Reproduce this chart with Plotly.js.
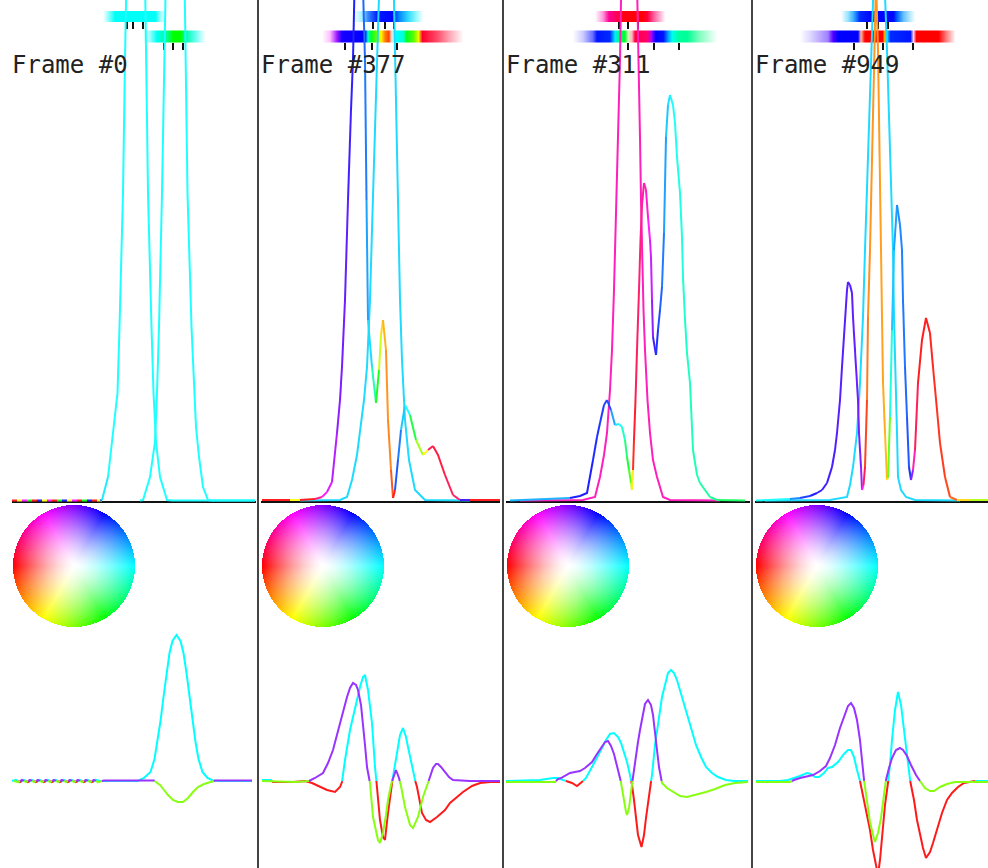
<!DOCTYPE html>
<html><head><meta charset="utf-8">
<script src="https://cdn.plot.ly/plotly-3.0.1.min.js"></script>
<style>html,body{margin:0;padding:0;background:#fff}#chart{width:988px;height:868px}</style>
</head><body><div id="chart"></div>
<script>
// ================= DATA =================
const frameLabels = ['Frame #0', 'Frame #377', 'Frame #311', 'Frame #949'];

// ---- Column 1 (Frame #0) : densities (position, density, phase hue in degrees)
const c1aX = [90, 92, 98, 104, 107.5, 109.5, 113, 115, 117.5, 120.5, 123, 125.5, 128, 130.5, 133.5, 136, 138, 141.5, 143.5, 146, 150, 157, 162, 245];
const c1aY = [0.015, 0.02, 0.25, 0.75, 1.09, 1.75, 3.09, 4.42, 6.5, 8.5, 9.9, 10.4, 9.9, 8.5, 6.5, 4.42, 3.09, 1.75, 1.09, 0.6, 0.25, 0.02, 0.015, 0.015];
const c1aH = [215, 185, 180, 180, 180, 180, 180, 180, 180, 180, 180, 180, 180, 180, 180, 180, 180, 180, 180, 180, 180, 180, 180, 180];
const c1bX = [130, 133, 140, 145, 147, 149, 152, 154.5, 157, 160, 162.5, 165, 167.5, 170, 173, 175.5, 177.5, 181.5, 184, 186, 189, 193, 198, 202, 245];
const c1bY = [0.015, 0.02, 0.25, 0.6, 1.09, 1.75, 3.09, 4.42, 6.5, 8.5, 9.9, 10.4, 9.9, 8.5, 6.5, 4.42, 3.09, 1.75, 1.09, 0.75, 0.45, 0.15, 0.02, 0.015, 0.015];
const c1bH = 180;
const c1nX = [2, 7, 12, 17, 22, 27, 32, 37, 42, 47, 52, 57, 62, 67, 72, 77, 82, 87, 92];
const c1nY = [0.015, 0.015, 0.015, 0.015, 0.015, 0.015, 0.015, 0.015, 0.015, 0.015, 0.015, 0.015, 0.015, 0.015, 0.015, 0.015, 0.015, 0.015, 0.015];
const c1nH = [0, 60, 300, 120, 0, 240, 60, 300, 0, 120, 240, 60, 300, 0, 120, 240, 0, 60, 200];

// ---- Column 2 (Frame #377)
const c2aX = [3, 31, 41, 56, 63, 68, 73, 78, 81, 83, 86, 89, 92, 94, 96.5, 100, 103, 106, 107.5, 109, 113, 117, 120, 122, 124, 127, 129, 132, 134, 136, 139, 142, 146, 151, 157, 164, 169, 174, 179, 186, 194, 201, 211, 241];
const c2aY = [0.02, 0.02, 0.02, 0.03, 0.05, 0.10, 0.20, 0.69, 1.02, 1.35, 2.02, 3.02, 3.92, 4.42, 5.62, 6.0, 5.5, 4.42, 3.02, 1.82, 1.35, 0.99, 1.32, 1.67, 1.82, 1.52, 0.82, 0.32, 0.04, 0.12, 0.42, 0.72, 0.97, 0.87, 0.62, 0.47, 0.52, 0.56, 0.47, 0.27, 0.07, 0.02, 0.02, 0.02];
const c2aH = [0, 60, 0, 330, 300, 290, 280, 270, 265, 262, 258, 250, 245, 240, 235, 228, 220, 215, 205, 190, 160, 120, 75, 50, 40, 32, 28, 15, 0, 225, 215, 195, 180, 130, 85, 60, 345, 350, 350, 345, 340, 250, 0, 0];
const c2bX = [41, 81, 88, 93, 98, 101, 105, 108, 111, 113, 115, 117, 120, 127, 133, 136, 137.5, 139, 141, 143, 146, 150, 156, 166, 211];
const c2bY = [0.015, 0.02, 0.05, 0.22, 0.47, 0.69, 1.02, 1.35, 2.02, 2.72, 3.62, 4.42, 6.0, 7.4, 6.0, 4.42, 3.52, 2.72, 2.02, 1.42, 0.82, 0.42, 0.12, 0.02, 0.015];
const c2bH = 190;

// ---- Column 3 (Frame #311)
const c3aX = [16, 79, 91, 96, 100, 103, 106, 108, 110, 112, 114, 116, 119, 125, 131, 135, 136, 137, 138, 139.5, 141, 143.5, 146, 149, 153, 159, 166, 216];
const c3aY = [0.015, 0.02, 0.05, 0.25, 0.47, 0.69, 1.12, 1.52, 2.12, 2.82, 3.65, 4.42, 6.22, 7.52, 6.22, 4.42, 3.65, 3.02, 2.42, 1.92, 1.52, 1.02, 0.69, 0.42, 0.25, 0.05, 0.02, 0.015];
const c3aH = 318;
const c3bX = [6, 66, 76, 83, 89, 93, 96, 100, 103, 107, 111, 115, 118, 121, 123, 125, 127, 128, 129, 130, 131.5, 133, 135, 136.5, 138, 140, 142, 144, 146, 147, 148, 149, 152, 154, 156, 158, 160, 162, 164, 166, 169, 171, 173, 176, 178, 179, 181, 183, 186, 189, 193, 196, 206, 213, 241];
const c3bY = [0.015, 0.04, 0.06, 0.09, 0.42, 0.65, 0.79, 0.97, 1.02, 0.92, 0.77, 0.78, 0.75, 0.62, 0.45, 0.32, 0.19, 0.12, 0.32, 0.62, 1.02, 1.52, 2.12, 2.62, 2.97, 3.19, 3.12, 2.85, 2.62, 2.45, 2.02, 1.65, 1.47, 1.72, 1.92, 2.15, 2.69, 3.65, 3.97, 4.07, 3.97, 3.79, 3.45, 3.09, 2.65, 2.25, 1.82, 1.49, 1.19, 0.52, 0.27, 0.19, 0.05, 0.02, 0.015];
const c3bH = [200, 240, 240, 240, 236, 234, 232, 230, 228, 205, 185, 178, 165, 145, 125, 105, 80, 55, 5, 355, 345, 340, 335, 330, 325, 320, 312, 300, 290, 285, 270, 250, 235, 228, 222, 215, 205, 195, 188, 182, 178, 176, 174, 172, 170, 168, 166, 164, 162, 160, 158, 155, 150, 140, 120];

// ---- Column 4 (Frame #949)
const c4aX = [3, 12, 37, 47, 57, 64, 69, 74, 79, 82, 84, 87, 89, 92, 94, 95, 97, 99, 100, 103, 105, 106, 108, 109, 110.5, 112, 114, 115, 117, 119, 121, 123, 125, 126.5, 128, 130, 132, 134, 135, 137, 139, 141, 144, 147, 149, 150, 152, 154, 156, 158, 160, 162, 165, 169, 173, 177, 180, 184, 187, 192, 197, 204, 217, 235];
const c4aY = [0.015, 0.02, 0.03, 0.04, 0.06, 0.09, 0.12, 0.19, 0.35, 0.52, 0.69, 1.02, 1.35, 1.85, 2.12, 2.20, 2.17, 2.09, 1.85, 1.35, 1.02, 0.69, 0.35, 0.12, 0.17, 0.35, 1.02, 1.85, 2.52, 3.52, 4.52, 5.22, 4.52, 3.52, 2.52, 1.19, 0.69, 0.22, 0.24, 0.85, 1.72, 2.52, 2.97, 2.77, 2.52, 2.02, 1.35, 0.85, 0.35, 0.22, 0.32, 0.52, 1.19, 1.62, 1.84, 1.69, 1.35, 0.92, 0.59, 0.25, 0.05, 0.02, 0.02, 0.02];
const c4aH = [180, 180, 210, 230, 240, 245, 248, 250, 252, 254, 255, 255, 255, 255, 255, 255, 256, 257, 258, 260, 262, 265, 275, 300, 345, 10, 25, 30, 32, 32, 32, 32, 33, 34, 35, 38, 42, 55, 100, 170, 195, 205, 210, 212, 214, 216, 220, 225, 235, 270, 320, 345, 0, 0, 0, 2, 4, 6, 8, 12, 20, 50, 80, 40];
const c4bX = [12, 77, 94, 97, 100, 104, 107, 110, 112, 115, 118, 122, 126, 130, 134, 137, 140, 141, 143, 144, 145, 148, 153, 162, 207];
const c4bY = [0.015, 0.02, 0.05, 0.17, 0.35, 0.69, 1.19, 1.85, 2.52, 3.52, 4.52, 5.62, 6.0, 5.62, 4.52, 3.52, 2.52, 1.85, 1.19, 0.69, 0.25, 0.12, 0.05, 0.02, 0.015];
const c4bH = 190;

// ---- Lower panels: real and imaginary parts
const re1X = [2, 6, 10, 14, 18, 22, 26, 30, 34, 38, 42, 46, 50, 54, 58, 62, 66, 70, 74, 78, 82, 86, 90, 128, 134, 140.5, 144.5, 147.5, 150.5, 153.5, 156.5, 159.5, 162.5, 166.5, 170.5, 173.5, 176.5, 179.5, 182.5, 185.5, 188.5, 192.5, 197.5, 203, 209, 242];
const re1Y = [0, 0.012, -0.012, 0.012, -0.012, 0.012, -0.012, 0.012, -0.012, 0.012, -0.012, 0.012, -0.012, 0.012, -0.012, 0.012, -0.012, 0.012, -0.012, 0.012, -0.012, 0.012, 0, 0, 0.03, 0.09, 0.22, 0.39, 0.60, 0.84, 1.08, 1.28, 1.40, 1.46, 1.40, 1.28, 1.08, 0.84, 0.60, 0.39, 0.22, 0.09, 0.03, 0.005, 0, 0];
const im1X = [4, 8, 12, 16, 20, 24, 28, 32, 36, 40, 44, 48, 52, 56, 60, 64, 68, 72, 76, 80, 84, 88, 92, 94, 144, 150, 154, 158, 163, 168, 173, 178, 183, 188, 194, 201, 205, 242];
const im1Y = [0, -0.012, 0.012, -0.012, 0.012, -0.012, 0.012, -0.012, 0.012, -0.012, 0.012, -0.012, 0.012, -0.012, 0.012, -0.012, 0.012, -0.012, 0.012, -0.012, 0.012, -0.012, 0, 0.004, 0.004, -0.04, -0.09, -0.14, -0.19, -0.21, -0.21, -0.17, -0.11, -0.06, -0.03, -0.01, 0.004, 0.004];

const re2X = [3, 12, 14, 34, 46, 53, 61, 68, 76, 81, 83, 86, 91, 96, 101, 104, 106, 109, 113, 116, 118, 121, 124, 126, 129, 133, 136, 138, 141, 144, 147, 149, 154, 158, 163, 167, 171, 178, 186, 191, 204, 213, 221, 231, 241];
const re2Y = [0.01, 0.01, -0.01, -0.01, 0.0, -0.02, -0.06, -0.09, -0.11, -0.06, -0.01, 0.21, 0.51, 0.74, 0.94, 1.04, 1.06, 0.91, 0.58, 0.14, -0.06, -0.39, -0.56, -0.59, -0.32, -0.02, 0.16, 0.31, 0.46, 0.53, 0.44, 0.34, 0.08, -0.06, -0.32, -0.39, -0.41, -0.36, -0.29, -0.22, -0.11, -0.05, -0.02, -0.01, -0.01];
const im2X = [3, 37, 50, 56, 64, 69, 74, 78, 81, 85, 88, 91, 94, 97, 99, 102, 104, 106, 108, 111, 114, 117, 119, 121, 124, 127, 129, 132, 134, 137, 140, 142, 146, 149, 151, 154, 157, 159, 164, 167, 170, 174, 177, 179, 182, 186, 190, 194, 211, 241];
const im2Y = [0, -0.01, 0, 0.03, 0.08, 0.18, 0.31, 0.46, 0.58, 0.74, 0.84, 0.93, 0.98, 0.96, 0.91, 0.76, 0.58, 0.36, 0.14, -0.02, -0.36, -0.51, -0.59, -0.62, -0.52, -0.34, -0.19, -0.04, 0.03, 0.11, 0.03, -0.05, -0.26, -0.37, -0.44, -0.47, -0.41, -0.36, -0.16, -0.07, 0.01, 0.13, 0.17, 0.17, 0.14, 0.09, 0.04, 0.01, 0, 0];

const re3X = [2, 36, 49, 54, 59, 68, 73, 77, 82, 88, 93, 98, 102, 106, 110, 114, 117, 120, 123, 126, 128, 130, 132, 134, 137.5, 140, 142, 145, 148, 151, 154.5, 158, 161, 164, 167, 170, 173, 178, 183, 188, 192, 197, 202, 208, 214, 222, 230, 244];
const re3Y = [0, 0.01, 0.03, 0.03, 0.01, -0.02, -0.05, -0.02, 0.03, 0.14, 0.23, 0.33, 0.41, 0.47, 0.48, 0.44, 0.38, 0.29, 0.19, 0.06, -0.04, -0.19, -0.39, -0.54, -0.66, -0.54, -0.37, -0.14, 0.06, 0.36, 0.61, 0.84, 0.96, 1.08, 1.11, 1.08, 1.01, 0.84, 0.68, 0.51, 0.36, 0.24, 0.14, 0.08, 0.04, 0.01, 0, 0];
const im3X = [2, 51, 54, 57, 66, 71, 76, 81, 88, 93, 98, 101, 104, 107, 110, 113, 116, 118, 120, 122, 123, 125, 127, 129, 132, 134, 136, 139, 141, 144, 147, 149, 151, 153, 155, 158, 163, 170, 176, 183, 191, 202, 211, 221, 231, 244];
const im3Y = [-0.01, -0.01, 0.02, 0.03, 0.08, 0.09, 0.10, 0.13, 0.19, 0.27, 0.35, 0.39, 0.40, 0.35, 0.27, 0.15, 0.04, -0.07, -0.22, -0.31, -0.34, -0.27, -0.11, 0.04, 0.24, 0.39, 0.51, 0.69, 0.77, 0.81, 0.76, 0.66, 0.51, 0.31, 0.14, -0.02, -0.07, -0.11, -0.15, -0.16, -0.14, -0.11, -0.08, -0.04, -0.02, -0.01];

const re4X = [3, 27, 35, 42, 47, 54, 58, 62, 66, 71, 75, 79, 85, 91, 95, 98, 101, 104, 107, 110, 113, 117, 120, 123, 125, 127, 129, 132, 135, 137, 139, 142, 145, 148, 151, 154, 157, 161, 164, 167, 170, 173, 177, 180, 184, 189, 194, 199, 205, 211, 222, 235];
const re4Y = [0, 0, 0.01, 0.03, 0.05, 0.08, 0.07, 0.04, 0.04, 0.08, 0.13, 0.14, 0.19, 0.27, 0.31, 0.31, 0.24, 0.11, 0, -0.14, -0.29, -0.49, -0.69, -0.87, -0.94, -0.79, -0.54, -0.24, -0.02, 0.16, 0.41, 0.71, 0.89, 0.76, 0.51, 0.23, 0.01, -0.19, -0.39, -0.54, -0.67, -0.77, -0.71, -0.62, -0.49, -0.32, -0.19, -0.12, -0.06, -0.02, 0, 0];
const im4X = [3, 37, 41, 47, 55, 60, 67, 73, 77, 82, 87, 92, 95, 98, 101, 104, 107, 109, 111, 113, 115, 117, 120, 122, 125, 128, 131, 133, 136, 139, 143, 147, 150, 154, 158, 163, 167, 172, 177, 181, 187, 194, 202, 235];
const im4Y = [-0.01, -0.01, 0.01, 0.03, 0.05, 0.06, 0.10, 0.15, 0.23, 0.36, 0.53, 0.68, 0.75, 0.78, 0.73, 0.61, 0.41, 0.21, 0.01, -0.14, -0.29, -0.41, -0.54, -0.61, -0.52, -0.37, -0.14, 0.01, 0.13, 0.23, 0.31, 0.33, 0.31, 0.25, 0.16, 0.06, 0, -0.07, -0.10, -0.10, -0.06, -0.03, -0.01, -0.01];

// ---- Phase bars at the top (position, hue, intensity) and their tick marks
const bar1aX = [93, 98, 105, 145, 150, 155];
const bar1aH = [178, 178, 178, 178, 178, 178];
const bar1aA = [0, 0.4, 1, 1, 0.4, 0];
const bar1bX = [133, 140, 147, 158, 163, 170, 176, 185, 195];
const bar1bH = [178, 178, 178, 150, 120, 120, 160, 175, 178];
const bar1bA = [0, 0.4, 1, 1, 1, 1, 1, 0.6, 0];
const bar2aX = [94, 103, 109, 119, 133, 139, 149, 157, 164];
const bar2aH = [185, 190, 215, 235, 238, 210, 190, 185, 185];
const bar2aA = [0, 0.35, 0.8, 1, 1, 1, 0.8, 0.4, 0];
const bar2bX = [63, 71, 78, 83, 106, 109, 112, 117, 122, 126, 130, 132, 134, 137, 144, 147, 154, 159, 163, 178, 190, 204];
const bar2bH = [300, 300, 275, 245, 240, 170, 130, 100, 60, 30, 15, 10, 180, 180, 170, 130, 100, 65, 350, 350, 350, 350];
const bar2bA = [0, 0.25, 0.9, 1, 1, 1, 1, 1, 1, 1, 1, 0.3, 0.3, 1, 1, 1, 1, 1, 1, 0.7, 0.35, 0];
const bar3aX = [91, 99, 105, 113, 118, 138, 143, 150, 161];
const bar3aH = [320, 320, 325, 340, 355, 0, 345, 335, 330];
const bar3aA = [0, 0.4, 1, 1, 1, 1, 1, 0.6, 0];
const bar3bX = [69, 79, 89, 93, 106, 111, 116, 121, 124, 128, 131, 143, 147, 151, 159, 164, 168, 174, 183, 195, 213];
const bar3bH = [240, 240, 238, 235, 230, 185, 145, 130, 100, 350, 345, 335, 280, 240, 235, 200, 175, 158, 155, 150, 150];
const bar3bA = [0, 0.2, 0.6, 1, 1, 1, 1, 1, 0.3, 0.3, 1, 1, 1, 1, 1, 1, 1, 1, 1, 0.5, 0];
const bar4aX = [88, 95, 101, 107, 120, 140, 144, 150, 156, 162];
const bar4aH = [195, 195, 205, 230, 240, 238, 215, 205, 200, 195];
const bar4aA = [0, 0.4, 0.8, 1, 1, 1, 1, 0.6, 0.3, 0];
const bar4bX = [47, 60, 75, 80, 85, 105, 108, 112, 129, 131, 133, 137, 157, 160, 163, 185, 193, 202];
const bar4bH = [250, 250, 255, 260, 240, 240, 20, 0, 0, 40, 180, 230, 235, 300, 0, 0, 0, 0];
const bar4bA = [0, 0.2, 0.5, 1, 1, 1, 0.4, 1, 1, 1, 1, 1, 1, 0.2, 1, 1, 0.5, 0];
const ticks1a = [117, 123, 133], ticks1b = [154, 163, 173];
const ticks2a = [114, 126, 135], ticks2b = [86, 113, 138];
const ticks3a = [115, 124, 134], ticks3b = [124, 150, 175];
const ticks4a = [114, 125, 135], ticks4b = [101, 130, 160];

// ================= RENDERING =================
const W = 988, H = 868;
const colL = [10, 259, 504, 753];
const sepX = [258, 503, 752];
const baseSpan = [[12, 256], [261, 500], [506, 750], [755, 988]];

function hsv(h, s, v) {
  h = ((h % 360) + 360) % 360;
  const c = v * s, x = c * (1 - Math.abs((h / 60) % 2 - 1)), m = v - c;
  let r, g, b;
  if (h < 60) [r, g, b] = [c, x, 0];
  else if (h < 120) [r, g, b] = [x, c, 0];
  else if (h < 180) [r, g, b] = [0, c, x];
  else if (h < 240) [r, g, b] = [0, x, c];
  else if (h < 300) [r, g, b] = [x, 0, c];
  else [r, g, b] = [c, 0, x];
  return [Math.round((r + m) * 255), Math.round((g + m) * 255), Math.round((b + m) * 255)];
}
const rgb = a => `rgb(${a[0]},${a[1]},${a[2]})`;
const phaseColor = h => rgb(hsv(h, 0.88, 1));
function mixWhite(c, a) { return rgb(c.map(v => Math.round(255 + (v - 255) * a))); }

const traces = [];
function phaseTraces(xs, ys, hs, xa, ya) {
  let cur = null;
  for (let i = 0; i < xs.length - 1; i++) {
    const col = phaseColor(Array.isArray(hs) ? hs[i] : hs);
    if (cur && cur.line.color === col) { cur.x.push(xs[i + 1]); cur.y.push(ys[i + 1]); }
    else {
      cur = { type: 'scatter', mode: 'lines', x: [xs[i], xs[i + 1]], y: [ys[i], ys[i + 1]], xaxis: xa, yaxis: ya,
        line: { color: col, width: 2 }, hoverinfo: 'skip' };
      traces.push(cur);
    }
  }
}
function signTraces(xs, ys, posCol, negCol, xa, ya) {
  let cur = null, curS = 0;
  function add(x0, y0, x1, y1, s) {
    if (cur && curS === s) { cur.x.push(x1); cur.y.push(y1); }
    else {
      cur = { type: 'scatter', mode: 'lines', x: [x0, x1], y: [y0, y1], xaxis: xa, yaxis: ya,
        line: { color: s > 0 ? posCol : negCol, width: 2 }, hoverinfo: 'skip' };
      curS = s; traces.push(cur);
    }
  }
  for (let i = 0; i < xs.length - 1; i++) {
    const x0 = xs[i], y0 = ys[i], x1 = xs[i + 1], y1 = ys[i + 1];
    if ((y0 > 0 && y1 < 0) || (y0 < 0 && y1 > 0)) {
      const t = y0 / (y0 - y1), xm = x0 + t * (x1 - x0);
      add(x0, y0, xm, 0, y0 > 0 ? 1 : -1);
      add(xm, 0, x1, y1, y1 > 0 ? 1 : -1);
    } else add(x0, y0, x1, y1, (y0 + y1) >= 0 ? 1 : -1);
  }
}
function barTrace(bx, bh, ba, xa, ya, yc, dy) {
  const p0 = bx[0], p1 = bx[bx.length - 1];
  const xs = []; for (let v = p0; v <= p1 + 1e-9; v += 0.5) xs.push(v);
  const cs = bx.map((p, i) => [(p - p0) / (p1 - p0), mixWhite(hsv(bh[i], 1, 1), ba[i])]);
  traces.push({ type: 'heatmap', x: xs, z: [xs], y0: yc, dy: dy, colorscale: cs, zmin: p0, zmax: p1,
    showscale: false, xaxis: xa, yaxis: ya, hoverinfo: 'skip', zsmooth: false });
}
function tickTrace(ts, yTop, yBot, xa, ya) {
  const x = [], y = [];
  ts.forEach(t => { x.push(t, t, null); y.push(yTop, yBot, null); });
  traces.push({ type: 'scatter', mode: 'lines', x, y, xaxis: xa, yaxis: ya, line: { color: '#111', width: 2 }, hoverinfo: 'skip' });
}

const RE_POS = '#00ffff', RE_NEG = '#ff1a1a', IM_POS = '#9933ff', IM_NEG = '#88ff11';
const cols = [
  { top: [[c1nX, c1nY, c1nH], [c1aX, c1aY, c1aH], [c1bX, c1bY, c1bH]], re: [re1X, re1Y], im: [im1X, im1Y],
    bars: [[bar1aX, bar1aH, bar1aA], [bar1bX, bar1bH, bar1bA]], ticks: [ticks1a, ticks1b] },
  { top: [[c2bX, c2bY, c2bH], [c2aX, c2aY, c2aH]], re: [re2X, re2Y], im: [im2X, im2Y],
    bars: [[bar2aX, bar2aH, bar2aA], [bar2bX, bar2bH, bar2bA]], ticks: [ticks2a, ticks2b] },
  { top: [[c3aX, c3aY, c3aH], [c3bX, c3bY, c3bH]], re: [re3X, re3Y], im: [im3X, im3Y],
    bars: [[bar3aX, bar3aH, bar3aA], [bar3bX, bar3bH, bar3bA]], ticks: [ticks3a, ticks3b] },
  { top: [[c4bX, c4bY, c4bH], [c4aX, c4aY, c4aH]], re: [re4X, re4Y], im: [im4X, im4Y],
    bars: [[bar4aX, bar4aH, bar4aA], [bar4bX, bar4bH, bar4bA]], ticks: [ticks4a, ticks4b] }
];

// colour-wheel legend image (phase -> hue, magnitude -> saturation)
function wheel(n) {
  const z = [], R = n / 2;
  for (let j = 0; j < n; j++) {
    const row = [];
    for (let i = 0; i < n; i++) {
      const dx = i + 0.5 - R, dy = R - (j + 0.5), r = Math.hypot(dx, dy);
      if (r > R) row.push([255, 255, 255, 0]);
      else {
        const th = Math.atan2(dy, dx) * 180 / Math.PI;
        const c = hsv(th + 180, Math.min(1, Math.pow(r / R, 1.35)), 1);
        row.push([c[0], c[1], c[2], 1]);
      }
    }
    z.push(row);
  }
  return z;
}
const WN = 122, wheelZ = wheel(WN);

const layout = {
  width: W, height: H, margin: { l: 0, r: 0, t: 0, b: 0 },
  paper_bgcolor: '#ffffff', plot_bgcolor: 'rgba(0,0,0,0)',
  showlegend: false, hovermode: false, shapes: [], annotations: []
};
const hid = { visible: false, showgrid: false, zeroline: false, fixedrange: true };
const topRow1 = { yc: (502 - 16.5) / 100, dy: 0.11, t0: (502 - 22) / 100, t1: (502 - 29) / 100 };
const topRow2 = { yc: (502 - 36.5) / 100, dy: 0.12, t0: (502 - 43) / 100, t1: (502 - 50) / 100 };

cols.forEach((c, k) => {
  const L = colL[k];
  const xd0 = L / W, xd1 = Math.min(1, (L + 247) / W);
  const xn = k === 0 ? 'x' : 'x' + (k + 1);
  const yt = k === 0 ? 'y' : 'y' + (k + 1);
  const yb = 'y' + (k + 5);
  layout[k === 0 ? 'xaxis' : 'xaxis' + (k + 1)] = Object.assign({ domain: [xd0, xd1], range: [0, (xd1 - xd0) * W], anchor: yt }, hid);
  layout[k === 0 ? 'yaxis' : 'yaxis' + (k + 1)] = Object.assign({ domain: [1 - 504 / H, 1], range: [-0.02, 5.02], anchor: xn }, hid);
  layout['yaxis' + (k + 5)] = Object.assign({ domain: [0, 1 - 505 / H], range: [-0.87, 2.76], anchor: xn }, hid);
  const wx = 'x' + (k + 5), wy = 'y' + (k + 9);
  layout['xaxis' + (k + 5)] = Object.assign({ domain: [(L + 3) / W, (L + 3 + WN) / W], range: [-0.5, WN - 0.5], anchor: wy }, hid);
  layout['yaxis' + (k + 9)] = Object.assign({ domain: [1 - (505 + WN) / H, 1 - 505 / H], range: [WN - 0.5, -0.5], anchor: wx }, hid);
  traces.push({ type: 'image', z: wheelZ, colormodel: 'rgba', xaxis: wx, yaxis: wy, hoverinfo: 'skip' });

  barTrace(c.bars[0][0], c.bars[0][1], c.bars[0][2], xn, yt, topRow1.yc, topRow1.dy);
  barTrace(c.bars[1][0], c.bars[1][1], c.bars[1][2], xn, yt, topRow2.yc, topRow2.dy);
  tickTrace(c.ticks[0], topRow1.t0, topRow1.t1, xn, yt);
  tickTrace(c.ticks[1], topRow2.t0, topRow2.t1, xn, yt);

  c.top.forEach(cv => phaseTraces(cv[0], cv[1], cv[2], xn, yt));
  signTraces(c.re[0], c.re[1], RE_POS, RE_NEG, xn, yb);
  signTraces(c.im[0], c.im[1], IM_POS, IM_NEG, xn, yb);

  layout.shapes.push({ type: 'line', xref: 'paper', yref: 'y', x0: baseSpan[k][0] / W, x1: baseSpan[k][1] / W, y0: 0, y1: 0,
    line: { color: '#111', width: 2 }, layer: 'below' });
  layout.annotations.push({ text: frameLabels[k], xref: 'paper', yref: 'paper', x: (L) / W, y: 1 - 65 / H,
    xanchor: 'left', yanchor: 'middle', showarrow: false, font: { family: 'DejaVu Sans Mono', size: 24, color: '#222' } });
});
sepX.forEach(x => layout.shapes.push({ type: 'line', xref: 'paper', yref: 'paper', x0: x / W, x1: x / W, y0: 0, y1: 1,
  line: { color: '#444', width: 2 } }));

Plotly.newPlot('chart', traces, layout, { staticPlot: true, displayModeBar: false });
</script></body></html>
